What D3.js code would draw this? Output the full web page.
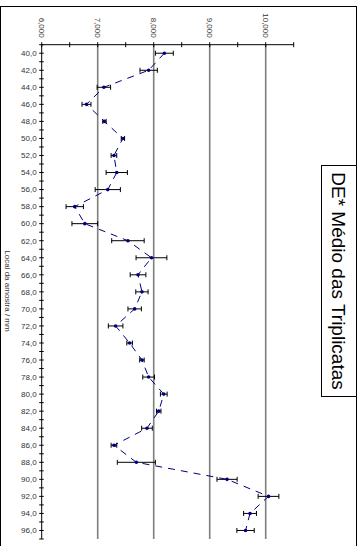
<!DOCTYPE html>
<html>
<head>
<meta charset="utf-8">
<script src="https://cdn.jsdelivr.net/npm/d3@7"></script>
<style>
  html, body { margin: 0; padding: 0; background: #fff; }
  svg { display: block; font-family: "Liberation Sans", Arial, sans-serif; }
</style>
</head>
<body>
<svg id="chart" width="364" height="546"></svg>
<script>
// Sampling positions along the core (mm)
const positions = [40, 42, 44, 46, 48, 50, 52, 54, 56, 58, 60, 62, 64, 66, 68,
                   70, 72, 74, 76, 78, 80, 82, 84, 86, 88, 90, 92, 94, 96];
// Mean DE* of the triplicates
const meanDE = [8.19, 7.91, 7.11, 6.80, 7.12, 7.45, 7.29, 7.34, 7.18, 6.59, 6.77, 7.54, 7.96, 7.72, 7.79,
                7.66, 7.32, 7.57, 7.79, 7.91, 8.18, 8.09, 7.88, 7.29, 7.69, 9.31, 10.05, 9.72, 9.64];
// Half-width of the error bars
const errDE = [0.16, 0.155, 0.12, 0.08, 0.03, 0.03, 0.05, 0.19, 0.225, 0.155, 0.23, 0.29, 0.275, 0.14, 0.11,
               0.12, 0.13, 0.05, 0.04, 0.105, 0.06, 0.04, 0.095, 0.05, 0.34, 0.18, 0.185, 0.115, 0.155];
const valueTicks = [6, 7, 8, 9, 10];
const gridValues = [7, 8, 9, 10];
const title = "DE* Médio das Triplicatas";
const axisTitle = "Local da amostra / mm";

const svg = d3.select("#chart");

// Outer chart frame
svg.append("rect")
  .attr("x", 0.5).attr("y", 6.5)
  .attr("width", 356).attr("height", 600)
  .attr("fill", "#fff").attr("stroke", "#000").attr("stroke-width", 1);

const plotLeft = 41.7, plotTop = 44.7, plotBottom = 539;
const x = d3.scaleLinear().domain([6, 10.5]).range([plotLeft, plotLeft + 4.5 * 56]);
const y = d3.scaleLinear().domain([39, 97]).range([plotTop, plotBottom]);
const fmtX = v => d3.format(".3f")(v).replace(".", ",");
const fmtY = v => d3.format(".1f")(v).replace(".", ",");

// Vertical gridlines at the major values
svg.append("g").selectAll("line").data(gridValues).join("line")
  .attr("x1", d => x(d)).attr("x2", d => x(d))
  .attr("y1", plotTop).attr("y2", plotBottom)
  .attr("stroke", "#7f7f7f").attr("stroke-width", 1.6);

// Value axis along the top
const xAxis = svg.append("g").attr("transform", `translate(0,${plotTop})`);
xAxis.append("line").attr("x1", x(6)).attr("x2", x(10.5)).attr("stroke", "#000");
xAxis.selectAll("line.t").data(d3.range(6, 10.51, 0.5)).join("line").attr("class", "t")
  .attr("x1", d => x(d)).attr("x2", d => x(d)).attr("y1", -2.5).attr("y2", 2.5)
  .attr("stroke", "#000");
xAxis.selectAll("text").data(valueTicks).join("text")
  .attr("transform", d => `translate(${x(d)},${-7}) rotate(90)`)
  .attr("text-anchor", "end").attr("dy", "0.35em")
  .attr("font-size", 8).attr("fill", "#333")
  .text(fmtX);

// Position axis along the left side
const yAxis = svg.append("g").attr("transform", `translate(${plotLeft},0)`);
yAxis.append("line").attr("y1", plotTop).attr("y2", plotBottom).attr("stroke", "#000");
yAxis.selectAll("line.t").data(d3.range(39, 97.1, 1)).join("line").attr("class", "t")
  .attr("y1", d => y(d)).attr("y2", d => y(d)).attr("x1", -2.5).attr("x2", 2)
  .attr("stroke", "#000");
yAxis.selectAll("text").data(positions).join("text")
  .attr("x", -5).attr("y", d => y(d)).attr("dy", "0.35em")
  .attr("text-anchor", "end").attr("font-size", 8).attr("fill", "#333")
  .text(fmtY);

svg.append("text")
  .attr("transform", `translate(8,${291}) rotate(90)`)
  .attr("text-anchor", "middle").attr("dy", "0.35em")
  .attr("font-size", 8).attr("fill", "#333")
  .text(axisTitle);

const data = positions.map((p, i) => ({ p, v: meanDE[i], e: errDE[i] }));

// Dashed series line
svg.append("path").datum(data)
  .attr("d", d3.line().x(d => x(d.v)).y(d => y(d.p)))
  .attr("fill", "none").attr("stroke", "#000080").attr("stroke-width", 1)
  .attr("stroke-dasharray", "7,6");

// Error bars
const eb = svg.append("g").attr("stroke", "#000").attr("stroke-width", 1);
eb.selectAll("line.h").data(data).join("line").attr("class", "h")
  .attr("x1", d => x(d.v - d.e)).attr("x2", d => x(d.v + d.e))
  .attr("y1", d => y(d.p)).attr("y2", d => y(d.p));
eb.selectAll("line.l").data(data).join("line").attr("class", "l")
  .attr("x1", d => x(d.v - d.e)).attr("x2", d => x(d.v - d.e))
  .attr("y1", d => y(d.p) - 2.5).attr("y2", d => y(d.p) + 2.5);
eb.selectAll("line.r").data(data).join("line").attr("class", "r")
  .attr("x1", d => x(d.v + d.e)).attr("x2", d => x(d.v + d.e))
  .attr("y1", d => y(d.p) - 2.5).attr("y2", d => y(d.p) + 2.5);

// Point markers
svg.append("g").selectAll("circle").data(data).join("circle")
  .attr("cx", d => x(d.v)).attr("cy", d => y(d.p)).attr("r", 1.8)
  .attr("fill", "#000080");

// Title box
svg.append("rect")
  .attr("x", 321.5).attr("y", 165.5).attr("width", 35).attr("height", 231)
  .attr("fill", "#fff").attr("stroke", "#000").attr("stroke-width", 1);
svg.append("text")
  .attr("transform", `translate(339,281) rotate(90)`)
  .attr("text-anchor", "middle").attr("dy", "0.35em")
  .attr("font-size", 19).attr("fill", "#000")
  .text(title);
</script>
</body>
</html>
